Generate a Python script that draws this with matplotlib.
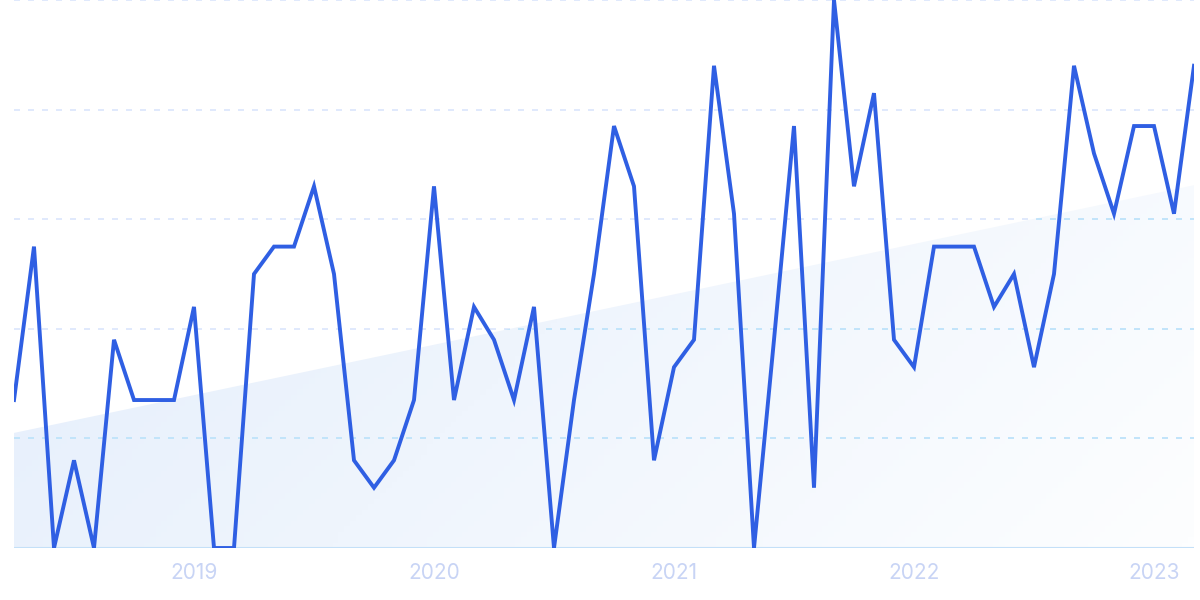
import numpy as np
import matplotlib.pyplot as plt
from matplotlib.colors import LinearSegmentedColormap

# monthly values, Apr 2018 .. Mar 2023
values = [27, 55, 0, 16, 0, 38, 27, 27, 27, 44,
          0, 0, 50, 55, 55, 66, 50, 16, 11, 16,
          27, 66, 27, 44, 38, 27, 44, 0, 27, 50,
          77, 66, 16, 33, 38, 88, 61, 0, 38, 77,
          11, 100, 66, 83, 38, 33, 55, 55, 55, 44,
          50, 33, 50, 88, 72, 61, 77, 77, 61, 88]
trend_start, trend_end = 21, 66.2
tick_pos = [9, 21, 33, 45, 57]
tick_labels = ['2019', '2020', '2021', '2022', '2023']

x = np.arange(len(values))
trend = np.linspace(trend_start, trend_end, len(values))

fig = plt.figure(figsize=(12, 6), dpi=100)
ax = fig.add_axes([14 / 1200, 52 / 600, 1180 / 1200, 548 / 600])
ax.set_xlim(0, len(values) - 1)
ax.set_ylim(0, 100)

# gradient fill under the trend line
poly = ax.fill_between(x, 0, trend, color='none', lw=0)
clip = poly.get_paths()[0]
cmap = LinearSegmentedColormap.from_list('g', ['#e1ecfb', '#fdfeff'])
gx, gy = np.meshgrid(np.linspace(0, 1, 200), np.linspace(0, 1, 100))
grad = 0.75 * gx + 0.35 * (1 - gy)
img = ax.imshow(grad, cmap=cmap, extent=[0, len(values) - 1, 0, 100],
                origin='lower', aspect='auto', vmin=0, vmax=1.1, zorder=1)
img.set_clip_path(clip, transform=ax.transData)

# grid: lavender outside the fill, cyan where it crosses the fill
for yv in [20, 40, 60, 80, 100]:
    ax.axhline(yv, color='#dae5fc', lw=1.2, ls=(0, (3.6, 4.8)), zorder=2)
    inner = ax.axhline(yv, color='#bde4fa', lw=1.2, ls=(0, (3.6, 4.8)), zorder=2)
    inner.set_clip_path(clip, transform=ax.transData)
ax.axhline(0, color='#c4e0f8', lw=1.5, zorder=2)

ax.plot(x, values, color='#2f5fe3', lw=2.8, solid_joinstyle='miter', zorder=3)

ax.set_xticks(tick_pos)
ax.set_xticklabels(tick_labels, fontfamily='Inter', fontsize=15, color='#c8d4f5')
ax.tick_params(axis='x', length=0, pad=11)
ax.set_yticks([])
for s in ax.spines.values():
    s.set_visible(False)

fig.savefig('out.png', dpi=100)
